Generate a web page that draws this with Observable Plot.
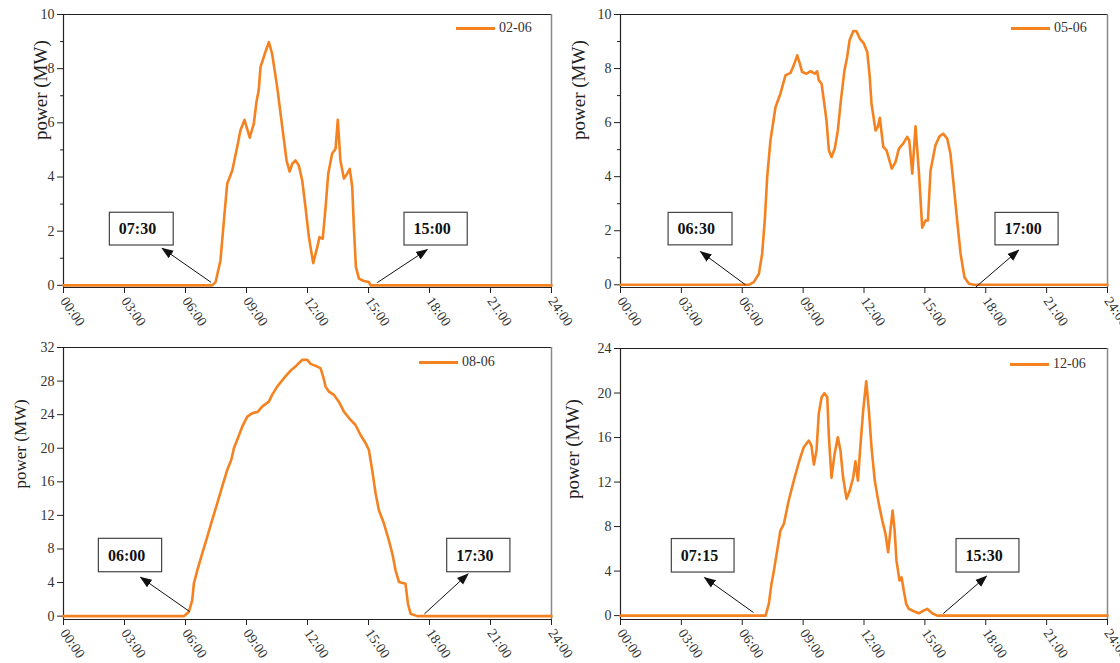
<!DOCTYPE html>
<html><head><meta charset="utf-8">
<script src="https://cdn.jsdelivr.net/npm/d3@7"></script>
<script src="https://cdn.jsdelivr.net/npm/@observablehq/plot@0.6"></script>
<style>
body{margin:0;background:#fff;}
#root{position:relative;width:1120px;height:663px;overflow:hidden;font-family:"Liberation Serif",serif;background:#fff;}
.panel{position:absolute;}
.panel svg{overflow:visible;background:transparent;}
.legend{position:absolute;display:flex;align-items:center;font-size:14px;color:#333;line-height:1;white-space:nowrap;}
.legend .sw{display:inline-block;width:39px;height:3px;background:#f58220;margin-right:4px;}
</style></head><body><div id="root"></div>
<script>
// ---------- data ----------
const xTicks = [0, 3, 6, 9, 12, 15, 18, 21, 24];
const xTickLabels = ["00:00","03:00","06:00","09:00","12:00","15:00","18:00","21:00","24:00"];

const seriesNames = ["02-06", "05-06", "08-06", "12-06"];

// time (hours) and power (MW) of each day
const t1 = [0, 7.31, 7.48, 7.72, 7.89, 8.05, 8.3, 8.54, 8.7, 8.9, 9.16, 9.36, 9.49, 9.6, 9.69, 9.9, 10.1, 10.26, 10.51, 10.76, 10.97, 11.12, 11.25, 11.41, 11.57, 11.74, 11.9, 12.07, 12.28, 12.48, 12.59, 12.75, 12.89, 13.02, 13.21, 13.38, 13.49, 13.62, 13.79, 13.95, 14.08, 14.2, 14.28, 14.38, 14.53, 14.77, 15.02, 15.1, 24];
const v1 = [0, 0, 0.12, 0.92, 2.4, 3.75, 4.24, 5.1, 5.72, 6.11, 5.45, 5.97, 6.77, 7.2, 8.06, 8.55, 8.98, 8.55, 7.32, 5.84, 4.61, 4.2, 4.49, 4.61, 4.43, 3.87, 2.89, 1.78, 0.82, 1.41, 1.78, 1.72, 2.89, 4.12, 4.86, 5.04, 6.11, 4.61, 3.94, 4.12, 4.3, 3.63, 2.15, 0.68, 0.25, 0.16, 0.12, 0, 0];

const t2 = [0, 6.32, 6.57, 6.82, 6.98, 7.11, 7.23, 7.39, 7.64, 7.88, 8.13, 8.38, 8.54, 8.71, 8.84, 8.95, 9.17, 9.36, 9.58, 9.69, 9.77, 9.91, 10.02, 10.15, 10.27, 10.4, 10.56, 10.71, 10.88, 11.04, 11.17, 11.29, 11.47, 11.63, 11.79, 11.99, 12.16, 12.27, 12.37, 12.57, 12.68, 12.78, 12.95, 13.11, 13.37, 13.55, 13.72, 13.93, 14.13, 14.23, 14.38, 14.54, 14.7, 14.87, 15.03, 15.15, 15.28, 15.52, 15.72, 15.9, 16.1, 16.26, 16.43, 16.59, 16.76, 16.95, 17.17, 17.41, 24];
const v2 = [0, 0, 0.1, 0.41, 1.15, 2.38, 3.99, 5.34, 6.58, 7.07, 7.75, 7.84, 8.12, 8.49, 8.18, 7.87, 7.81, 7.9, 7.81, 7.9, 7.57, 7.44, 6.83, 6.09, 4.97, 4.73, 5.04, 5.71, 6.95, 7.94, 8.43, 9.05, 9.39, 9.38, 9.11, 8.93, 8.61, 7.81, 6.7, 5.71, 5.84, 6.18, 5.1, 4.97, 4.3, 4.54, 5.04, 5.22, 5.47, 5.34, 4.11, 5.86, 4.23, 2.11, 2.38, 2.38, 4.23, 5.16, 5.49, 5.59, 5.41, 4.85, 3.61, 2.38, 1.15, 0.28, 0.04, 0, 0];

const t3 = [0, 5.92, 6.16, 6.33, 6.41, 6.58, 6.82, 7.07, 7.31, 7.56, 7.8, 8.05, 8.25, 8.38, 8.54, 8.79, 9.04, 9.28, 9.56, 9.77, 10.1, 10.26, 10.51, 10.84, 11.17, 11.41, 11.57, 11.74, 11.99, 12.15, 12.4, 12.64, 12.77, 12.89, 13.05, 13.3, 13.54, 13.79, 14.12, 14.36, 14.61, 14.86, 15.02, 15.18, 15.35, 15.51, 15.76, 16.0, 16.17, 16.33, 16.5, 16.82, 16.94, 17.07, 17.4, 24];
const v3 = [0, 0, 0.48, 1.87, 3.87, 5.46, 7.45, 9.43, 11.43, 13.42, 15.4, 17.4, 18.59, 19.99, 20.98, 22.57, 23.76, 24.16, 24.36, 24.96, 25.55, 26.35, 27.34, 28.34, 29.25, 29.73, 30.13, 30.53, 30.53, 30.05, 29.81, 29.54, 28.54, 27.34, 26.75, 26.35, 25.55, 24.36, 23.37, 22.77, 21.58, 20.59, 19.79, 17.4, 14.61, 12.62, 11.03, 9.04, 7.45, 5.46, 4.06, 3.87, 1.48, 0.29, 0, 0];

const t4 = [0, 7.15, 7.31, 7.44, 7.56, 7.72, 7.88, 8.05, 8.29, 8.54, 8.79, 9.03, 9.28, 9.41, 9.53, 9.66, 9.77, 9.91, 10.05, 10.19, 10.27, 10.4, 10.55, 10.71, 10.84, 10.97, 11.14, 11.3, 11.47, 11.58, 11.7, 11.83, 11.96, 12.11, 12.24, 12.37, 12.53, 12.73, 12.9, 13.06, 13.19, 13.31, 13.41, 13.51, 13.6, 13.75, 13.85, 13.96, 14.08, 14.21, 14.46, 14.7, 14.87, 15.12, 15.36, 15.61, 24];
const v4 = [0, 0, 1.05, 2.85, 4.04, 5.84, 7.64, 8.24, 10.34, 12.13, 13.78, 15.13, 15.73, 15.28, 13.57, 14.83, 18.13, 19.62, 19.98, 19.62, 16.03, 12.38, 14.53, 16.03, 14.83, 12.43, 10.49, 11.24, 12.43, 13.87, 12.13, 15.43, 18.43, 21.06, 18.43, 15.13, 12.13, 10.04, 8.54, 7.34, 5.69, 7.79, 9.44, 7.64, 4.94, 3.15, 3.44, 2.25, 1.05, 0.6, 0.39, 0.21, 0.39, 0.6, 0.21, 0, 0];

// y axis ticks
const yMajor1 = [0, 2, 4, 6, 8, 10];
const yMinor1 = [1, 3, 5, 7, 9];
const yMajor3 = [0, 4, 8, 12, 16, 20, 24, 28, 32];
const yMajor4 = [0, 4, 8, 12, 16, 20, 24];

// annotations: label, box (hours / MW) and arrow from the curve to the box
const annLabels1 = ["07:30", "15:00"];
const annBoxX1_1 = [2.28, 16.77], annBoxX2_1 = [5.42, 19.88], annBoxY1_1 = [1.47, 1.47], annBoxY2_1 = [2.68, 2.68];
const annFromT1 = [7.26, 15.43], annFromV1 = [0.11, 0.10], annToT1 = [4.85, 17.89], annToV1 = [1.37, 1.32];

const annLabels2 = ["06:30", "17:00"];
const annBoxX1_2 = [2.37, 18.48], annBoxX2_2 = [5.52, 21.59], annBoxY1_2 = [1.46, 1.46], annBoxY2_2 = [2.66, 2.66];
const annFromT2 = [6.16, 17.5], annFromV2 = [0.0, -0.09], annToT2 = [3.94, 19.62], annToV2 = [1.23, 1.28];

const annLabels3 = ["06:00", "17:30"];
const annBoxX1_3 = [1.74, 18.87], annBoxX2_3 = [4.85, 21.98], annBoxY1_3 = [5.23, 5.23], annBoxY2_3 = [9.21, 9.21];
const annFromT3 = [6.2, 17.75], annFromV3 = [0.55, 0.27], annToT3 = [3.79, 19.9], annToV3 = [4.63, 5.04];

const annLabels4 = ["07:15", "15:30"];
const annBoxX1_4 = [2.53, 16.56], annBoxX2_4 = [5.62, 19.66], annBoxY1_4 = [3.87, 3.87], annBoxY2_4 = [6.88, 6.88];
const annFromT4 = [6.55, 15.91], annFromV4 = [0.28, 0.19], annToT4 = [4.14, 18.04], annToV4 = [3.42, 3.54];

// ---------- build ----------
const ORANGE = "#f58220";
function rows(t, v) { return t.map((d, i) => ({t: d, v: v[i]})); }
function annRows(labels, bx1, bx2, by1, by2, ft, fv, tt, tv) {
  return labels.map((l, i) => ({label: l, x1: bx1[i], x2: bx2[i], y1: by1[i], y2: by2[i], ym: (by1[i] + by2[i]) / 2,
    ft: ft[i], fv: fv[i], tt: tt[i], tv: tv[i]}));
}
function filledArrow(color, context) {
  const doc = (context && context.document) || document;
  const ns = "http://www.w3.org/2000/svg";
  const m = doc.createElementNS(ns, "marker");
  m.setAttribute("viewBox", "-6 -5 12 10");
  m.setAttribute("markerWidth", 12);
  m.setAttribute("markerHeight", 10);
  m.setAttribute("markerUnits", "userSpaceOnUse");
  m.setAttribute("orient", "auto");
  m.setAttribute("refX", 5);
  m.setAttribute("refY", 0);
  const p = doc.createElementNS(ns, "path");
  p.setAttribute("d", "M-6,-4.5L6,0L-6,4.5Z");
  p.setAttribute("fill", "#111");
  p.setAttribute("stroke", "none");
  m.appendChild(p);
  return m;
}

function panel(cfg) {
  const data = rows(cfg.t, cfg.v);
  const ann = cfg.ann;
  const marks = [
    Plot.ruleY([cfg.yDomain[1]], {stroke: "#222", strokeWidth: 1.2}),
    Plot.ruleX([24], {stroke: "#888", strokeWidth: 1.5}),
    Plot.axisY({ticks: cfg.yMajor, tickSize: 6, tickPadding: 3, label: null, fontSize: 14, tickFormat: d => String(d), stroke: "#222"}),
    Plot.axisX({ticks: xTicks, tickSize: 6, tickPadding: 5, label: null, tickFormat: (d) => xTickLabels[xTicks.indexOf(d)],
      tickRotate: 55, textAnchor: "start", fontSize: 14, stroke: "#222"}),
    Plot.ruleX([0], {stroke: "#222", strokeWidth: 1.2}),
    Plot.ruleY([cfg.yDomain[0]], {stroke: "#222", strokeWidth: 1.2}),
    Plot.line(data, {x: "t", y: "v", stroke: ORANGE, strokeWidth: 2.6, strokeLinejoin: "round"}),
    Plot.link(ann, {x1: "ft", y1: "fv", x2: "tt", y2: "tv", stroke: "#111", strokeWidth: 1, markerEnd: filledArrow}),
    Plot.rect(ann, {x1: "x1", x2: "x2", y1: "y1", y2: "y2", fill: "white", stroke: "#444", strokeWidth: 1.2}),
    Plot.text(ann, {x: "x1", y: "ym", text: "label", textAnchor: "start", dx: 9, fontSize: 16, fontWeight: "bold", fill: "#111"}),
    Plot.text(["power (MW)"], {frameAnchor: "left", rotate: -90, dx: cfg.labelDx, dy: cfg.labelDy, fontSize: cfg.labelSize, fill: "#222"})
  ];
  if (cfg.yMinor) marks.splice(3, 0, Plot.axisY({ticks: cfg.yMinor, tickSize: 3, label: null, tickFormat: () => "", stroke: "#222"}));
  const svg = Plot.plot({
    width: cfg.width, height: cfg.height,
    marginLeft: 63, marginRight: cfg.marginRight, marginTop: cfg.marginTop, marginBottom: cfg.marginBottom,
    style: {fontFamily: "'Liberation Serif', serif", fontSize: "14px", color: "#333", background: "transparent", overflow: "visible"},
    x: {domain: [0, 24]},
    y: {domain: cfg.yDomain},
    marks
  });
  const div = document.createElement("div");
  div.className = "panel";
  div.style.left = cfg.left + "px";
  div.style.top = cfg.top + "px";
  div.appendChild(svg);
  const lg = document.createElement("div");
  lg.className = "legend";
  lg.style.left = cfg.legendLeft + "px";
  lg.style.top = cfg.legendTop + "px";
  lg.innerHTML = `<span class="sw"></span><span>${cfg.name}</span>`;
  div.appendChild(lg);
  document.getElementById("root").appendChild(div);
}

panel({name: seriesNames[0], t: t1, v: v1, left: 0, top: 0, width: 560, height: 331, marginRight: 9, marginTop: 14, marginBottom: 44,
  yDomain: [-0.08, 10], yMajor: yMajor1, yMinor: yMinor1, labelDx: -23, labelDy: -11, labelSize: 19,
  ann: annRows(annLabels1, annBoxX1_1, annBoxX2_1, annBoxY1_1, annBoxY2_1, annFromT1, annFromV1, annToT1, annToV1),
  legendLeft: 456, legendTop: 21});
panel({name: seriesNames[1], t: t2, v: v2, left: 557, top: 0, width: 563, height: 331, marginRight: 13, marginTop: 14, marginBottom: 44,
  yDomain: [-0.1, 10], yMajor: yMajor1, yMinor: yMinor1, labelDx: -42, labelDy: -11, labelSize: 19,
  ann: annRows(annLabels2, annBoxX1_2, annBoxX2_2, annBoxY1_2, annBoxY2_2, annFromT2, annFromV2, annToT2, annToV2),
  legendLeft: 454, legendTop: 21});
panel({name: seriesNames[2], t: t3, v: v3, left: 0, top: 333, width: 560, height: 330, marginRight: 9, marginTop: 14, marginBottom: 44,
  yDomain: [-0.4, 32], yMajor: yMajor3, labelDx: -43, labelDy: 5, labelSize: 17,
  ann: annRows(annLabels3, annBoxX1_3, annBoxX2_3, annBoxY1_3, annBoxY2_3, annFromT3, annFromV3, annToT3, annToV3),
  legendLeft: 419, legendTop: 22});
panel({name: seriesNames[3], t: t4, v: v4, left: 557, top: 333, width: 563, height: 330, marginRight: 13, marginTop: 15, marginBottom: 44,
  yDomain: [-0.35, 24], yMajor: yMajor4, labelDx: -48, labelDy: 15, labelSize: 19,
  ann: annRows(annLabels4, annBoxX1_4, annBoxX2_4, annBoxY1_4, annBoxY2_4, annFromT4, annFromV4, annToT4, annToV4),
  legendLeft: 453, legendTop: 24});
</script></body></html>
